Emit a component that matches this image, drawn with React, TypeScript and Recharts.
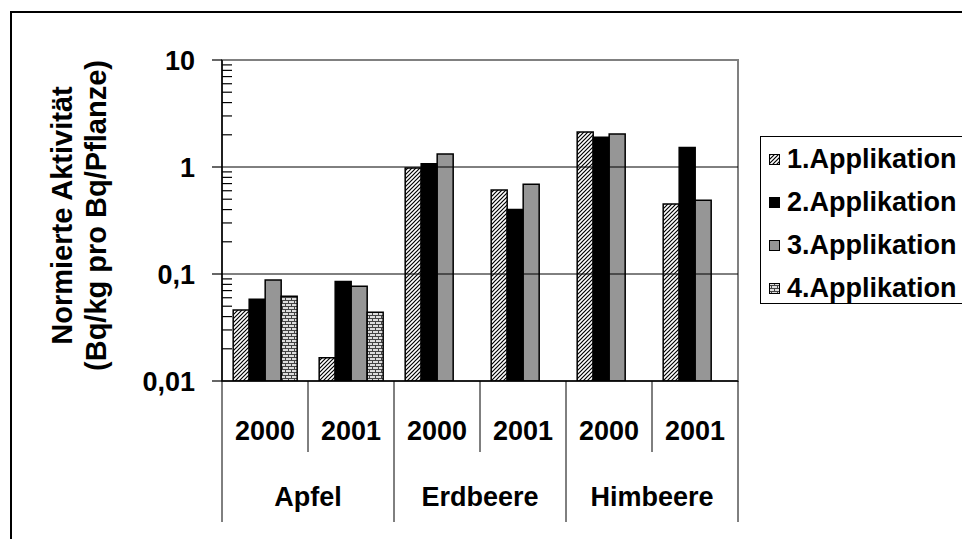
import { Bar, BarChart, ReferenceArea, ReferenceLine, XAxis, YAxis } from "recharts"

const years = ["2000", "2001", "2000", "2001", "2000", "2001"]
const fruits = ["Apfel", "Apfel", "Erdbeere", "Erdbeere", "Himbeere", "Himbeere"]
const app1 = [0.046, 0.0165, 0.98, 0.61, 2.12, 0.45]
const app2 = [0.058, 0.085, 1.07, 0.4, 1.9, 1.52]
const app3 = [0.088, 0.077, 1.32, 0.69, 2.03, 0.49]
const app4 = [0.062, 0.044, null, null, null, null]
const seriesNames = ["1.Applikation", "2.Applikation", "3.Applikation", "4.Applikation"]
const majorTicks = [0.01, 0.1, 1, 10]
const minorTicks = [
  0.02, 0.03, 0.04, 0.05, 0.06, 0.07, 0.08, 0.09,
  0.2, 0.3, 0.4, 0.5, 0.6, 0.7, 0.8, 0.9,
  2, 3, 4, 5, 6, 7, 8, 9,
]

const data = years.map((year, i) => ({
  year,
  fruit: fruits[i],
  a1: app1[i],
  a2: app2[i],
  a3: app3[i],
  a4: app4[i],
}))

const FONT = "'Liberation Sans', Arial, sans-serif"
const fills = ["url(#hatch)", "#000000", "#969696", "url(#brick)"]
const keys = ["a1", "a2", "a3", "a4"]

function Patterns() {
  return (
    <defs>
      <pattern id="hatch" width="4" height="4" patternUnits="userSpaceOnUse">
        <rect width="4" height="4" fill="#fff" />
        <path d="M-1,1 l2,-2 M0,4 l4,-4 M3,5 l2,-2" stroke="#000" strokeWidth="1.2" />
      </pattern>
      <pattern id="brick" width="6" height="6" patternUnits="userSpaceOnUse">
        <rect width="6" height="6" fill="#ddd" />
        <path d="M0,0.5 h6 M0,3.5 h6 M0.5,0.5 v3 M3.5,3.5 v3" stroke="#444" strokeWidth="1" />
      </pattern>
    </defs>
  )
}

function YTick(props: any) {
  const { x, y, payload } = props
  const v = payload.value
  if (!majorTicks.includes(v)) {
    return <line x1={x} x2={x + 10} y1={y} y2={y} stroke="#000" strokeWidth={1.2} />
  }
  return (
    <g>
      <line x1={x - 10} x2={x} y1={y} y2={y} stroke="#000" strokeWidth={1.2} />
      <text x={x - 27} y={y + 9.5} textAnchor="end" fontFamily={FONT} fontWeight={700} fontSize={27} fill="#000">
        {String(v).replace(".", ",")}
      </text>
    </g>
  )
}

function XTick(props: any) {
  const { x, y, payload } = props
  const idx = payload.index
  const half = payload.offset || 43
  const first = idx % 2 === 0
  return (
    <g>
      <line x1={x - half} x2={x - half} y1={y} y2={first ? y + 141 : y + 71} stroke="#000" strokeWidth={1} />
      {idx === years.length - 1 && (
        <line x1={x + half} x2={x + half} y1={y} y2={y + 141} stroke="#000" strokeWidth={1} />
      )}
      <text x={x} y={y + 59} textAnchor="middle" fontFamily={FONT} fontWeight={700} fontSize={27} fill="#000">
        {payload.value}
      </text>
      {first && (
        <text x={x + half} y={y + 125} textAnchor="middle" fontFamily={FONT} fontWeight={700} fontSize={27} fill="#000">
          {fruits[idx]}
        </text>
      )}
    </g>
  )
}

function YTitle(props: any) {
  const vb = props.viewBox || { x: 0, y: 60, width: 222, height: 321 }
  const cy = vb.y + vb.height / 2 - 5
  const x1 = vb.x + 62
  const x2 = vb.x + 96
  return (
    <g>
      <text
        x={x1}
        y={cy}
        transform={`rotate(-90 ${x1} ${cy})`}
        textAnchor="middle"
        dominantBaseline="central"
        fontFamily={FONT}
        fontWeight={700}
        fontSize={29}
        fill="#000"
      >
        Normierte Aktivität
      </text>
      <text
        x={x2}
        y={cy}
        transform={`rotate(-90 ${x2} ${cy})`}
        textAnchor="middle"
        dominantBaseline="central"
        fontFamily={FONT}
        fontWeight={700}
        fontSize={29}
        fill="#000"
      >
        (Bq/kg pro Bq/Pflanze)
      </text>
    </g>
  )
}

function LegendBox() {
  return (
    <div
      style={{
        position: "absolute",
        left: 760,
        top: 136,
        width: 260,
        height: 168,
        border: "1.5px solid #000",
        boxSizing: "border-box",
        paddingTop: 1,
        background: "#fff",
      }}
    >
      {seriesNames.map((name, i) => (
        <div key={name} style={{ display: "flex", alignItems: "center", height: 43 }}>
          <svg width={14} height={14} style={{ marginLeft: 7, marginRight: 5 }}>
            <rect x={1.5} y={1.5} width={10} height={10} fill={fills[i]} stroke="#000" strokeWidth={1} />
          </svg>
          <span style={{ fontFamily: FONT, fontWeight: 700, fontSize: 27, color: "#000", whiteSpace: "nowrap" }}>
            {name}
          </span>
        </div>
      ))}
    </div>
  )
}

export default function App() {
  return (
    <div style={{ position: "absolute", left: 0, top: 0, width: 962, height: 539, overflow: "hidden", background: "#fff" }}>
      <div
        style={{
          position: "absolute",
          left: 10,
          top: 11,
          width: 1000,
          height: 600,
          borderLeft: "2px solid #000",
          borderTop: "2px solid #000",
        }}
      />
      <svg width={0} height={0} style={{ position: "absolute" }}>
        <Patterns />
      </svg>
      <div style={{ position: "absolute", left: 0, top: 0 }}>
        <BarChart
          width={962}
          height={539}
          data={data}
          margin={{ top: 60, right: 224, left: 0, bottom: 8 }}
          barCategoryGap="13%"
          barGap={0}
        >
          <XAxis
            dataKey="year"
            height={150}
            interval={0}
            tickLine={false}
            tickSize={0}
            tickMargin={0}
            tick={<XTick />}
            axisLine={{ stroke: "#000", strokeWidth: 1.5 }}
          />
          <YAxis
            type="number"
            scale="log"
            domain={[0.01, 10]}
            allowDataOverflow
            ticks={[...majorTicks, ...minorTicks]}
            interval={0}
            width={222}
            tickLine={false}
            tickSize={0}
            tickMargin={0}
            tick={<YTick />}
            axisLine={{ stroke: "#000", strokeWidth: 1.5 }}
            label={<YTitle />}
          />
          <ReferenceArea y1={0.01} y2={10} fill="none" stroke="#808080" strokeWidth={2} />
          <ReferenceLine y={1} stroke="#000" strokeWidth={1} />
          <ReferenceLine y={0.1} stroke="#000" strokeWidth={1} />
          {keys.map((k, i) => (
            <Bar
              key={k}
              dataKey={k}
              name={seriesNames[i]}
              fill={fills[i]}
              stroke="#000"
              strokeWidth={1.5}
              isAnimationActive={false}
            />
          ))}
        </BarChart>
      </div>
      <LegendBox />
    </div>
  )
}
